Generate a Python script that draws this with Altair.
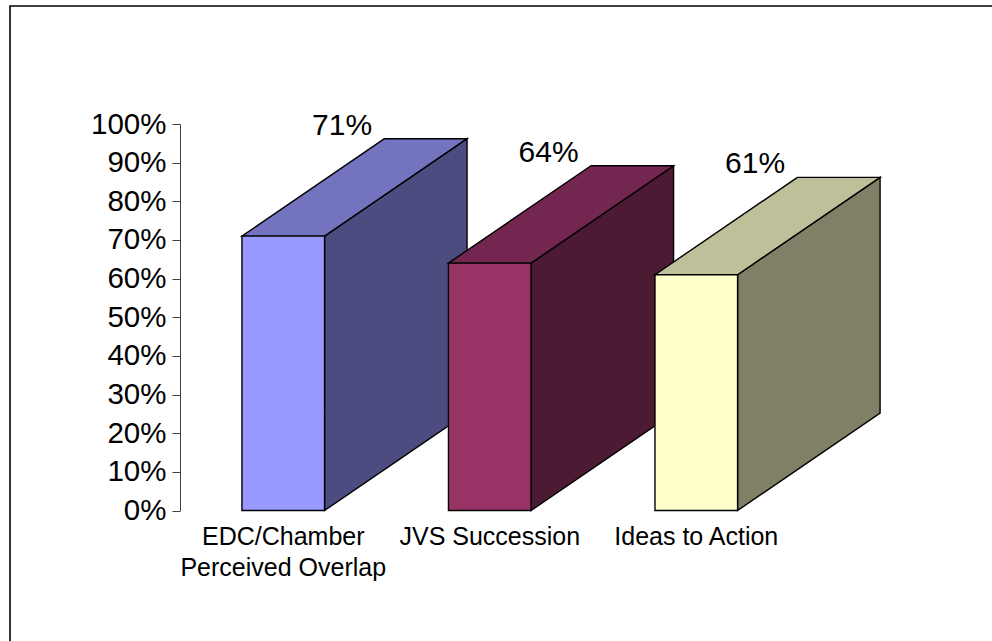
import altair as alt
import pandas as pd

# Survey results
categories = ["EDC/Chamber\nPerceived Overlap", "JVS Succession", "Ideas to Action"]
values = [71, 64, 61]

# Face colours of each box: front, top (lit) and right side (shaded)
front_colors = ["#9999FF", "#993366", "#FFFFCC"]
top_colors = ["#7373BF", "#732650", "#BFBF99"]
side_colors = ["#4C4C80", "#4D1A33", "#808066"]

# Oblique projection of the boxes (x in category slots, y in percent)
SLOT_OFFSET = 0.30
BAR_W = 0.40
DEPTH_X = 0.69
DEPTH_Y = 25.2
LABEL_SHIFT = 0.285
X_MAX = 3.932

FONT = "Liberation Sans"
EDGE = dict(stroke="black", strokeWidth=1.4)

front_rows, side_rows, top_rows, label_rows = [], [], [], []
for i, (cat, v) in enumerate(zip(categories, values)):
    x0 = i + SLOT_OFFSET
    x1 = x0 + BAR_W
    front_rows.append(dict(cat=cat, x0=x0, x1=x1, y0=0, y1=v, fill=front_colors[i]))
    side_rows.append(dict(cat=cat, x=x1, top=v, bottom=0, fill=side_colors[i]))
    side_rows.append(dict(cat=cat, x=x1 + DEPTH_X, top=v + DEPTH_Y, bottom=DEPTH_Y, fill=side_colors[i]))
    top_rows.append(dict(cat=cat, y=v, xa=x0, xb=x1, fill=top_colors[i]))
    top_rows.append(dict(cat=cat, y=v + DEPTH_Y, xa=x0 + DEPTH_X, xb=x1 + DEPTH_X, fill=top_colors[i]))
    label_rows.append(dict(cat=cat, xc=(x0 + x1) / 2, xv=(x0 + x1) / 2 + LABEL_SHIFT,
                           yv=v + DEPTH_Y, base=0, txt=f"{v}%"))

fronts = pd.DataFrame(front_rows)
sides = pd.DataFrame(side_rows)
tops = pd.DataFrame(top_rows)
labels = pd.DataFrame(label_rows)

xs = alt.Scale(domain=[0, X_MAX], nice=False, zero=False)
ys = alt.Scale(domain=[0, 100], nice=False)

yaxis = alt.Axis(
    values=list(range(0, 101, 10)),
    labelExpr="datum.value + '%'",
    grid=False,
    title=None,
    tickSize=8,
    tickWidth=1,
    tickColor="#404040",
    domainColor="#404040",
    domainWidth=1,
    labelFont=FONT,
    labelFontSize=29.5,
    labelColor="black",
    labelPadding=6,
)

side_layer = alt.Chart(sides).mark_area(**EDGE).encode(
    x=alt.X("x:Q", scale=xs, axis=None),
    y=alt.Y("top:Q", scale=ys, axis=yaxis),
    y2="bottom:Q",
    detail="cat:N",
    color=alt.Color("fill:N", scale=None),
)

top_layer = alt.Chart(tops).mark_area(orient="horizontal", **EDGE).encode(
    y=alt.Y("y:Q", scale=ys, axis=yaxis),
    x=alt.X("xa:Q", scale=xs, axis=None),
    x2="xb:Q",
    detail="cat:N",
    color=alt.Color("fill:N", scale=None),
)

front_layer = alt.Chart(fronts).mark_rect(**EDGE).encode(
    x=alt.X("x0:Q", scale=xs, axis=None),
    x2="x1:Q",
    y=alt.Y("y0:Q", scale=ys, axis=yaxis),
    y2="y1:Q",
    color=alt.Color("fill:N", scale=None),
)

value_text = alt.Chart(labels).mark_text(
    font=FONT, fontSize=30, color="black", align="center", baseline="alphabetic", dy=-4
).encode(
    x=alt.X("xv:Q", scale=xs, axis=None),
    y=alt.Y("yv:Q", scale=ys, axis=yaxis),
    text="txt:N",
)

category_text = alt.Chart(labels).mark_text(
    font=FONT, fontSize=25, color="black", align="center", baseline="alphabetic",
    lineBreak="\n", lineHeight=31, dy=34.5
).encode(
    x=alt.X("xc:Q", scale=xs, axis=None),
    y=alt.Y("base:Q", scale=ys, axis=yaxis),
    text="cat:N",
)

# Outer frame of the chart area
frame = alt.Chart(pd.DataFrame({"k": [0]})).mark_rect(
    filled=False, stroke="black", strokeWidth=1.6
).encode(
    x=alt.value(-170), x2=alt.value(840), y=alt.value(-118), y2=alt.value(540)
)

chart = alt.layer(
    frame, side_layer, top_layer, front_layer, value_text, category_text
).properties(
    width=812,
    height=386.5,
    autosize="none",
    background="white",
    padding={"left": 180, "top": 124, "right": 0, "bottom": 130.5},
).configure_view(stroke=None)

chart.save("out.html", embed_options={"renderer": "svg", "actions": False})
